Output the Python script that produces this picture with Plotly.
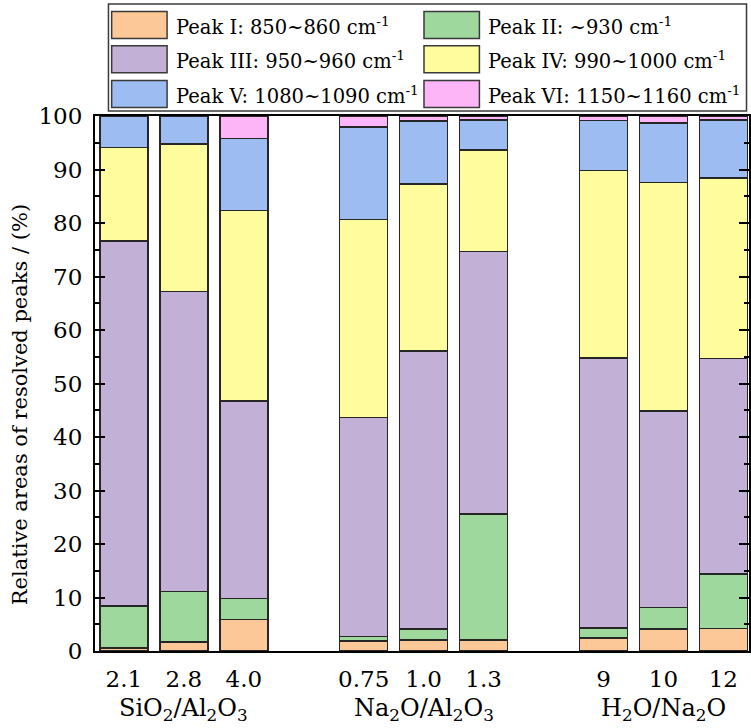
import plotly.graph_objects as go

# ---------------- data ----------------
group_labels = ["SiO<sub>2</sub>/Al<sub>2</sub>O<sub>3</sub>",
                "Na<sub>2</sub>O/Al<sub>2</sub>O<sub>3</sub>",
                "H<sub>2</sub>O/Na<sub>2</sub>O"]
ratio_labels = [["2.1", "2.8", "4.0"],
                ["0.75", "1.0", "1.3"],
                ["9", "10", "12"]]

peak_names = ["Peak I: 850~860 cm<sup>-1</sup>",
              "Peak II: ~930 cm<sup>-1</sup>",
              "Peak III: 950~960 cm<sup>-1</sup>",
              "Peak IV: 990~1000 cm<sup>-1</sup>",
              "Peak V: 1080~1090 cm<sup>-1</sup>",
              "Peak VI: 1150~1160 cm<sup>-1</sup>"]

# relative areas (%) for the 9 samples, in order of ratio_labels
peak_I   = [0.6, 1.7, 5.9, 1.9, 2.1, 2.1, 2.4, 4.1, 4.2]
peak_II  = [7.8, 9.4, 3.9, 0.8, 2.0, 23.5, 1.9, 4.0, 10.2]
peak_III = [68.2, 56.1, 36.9, 40.9, 52.0, 49.1, 50.5, 36.8, 40.3]
peak_IV  = [17.5, 27.6, 35.6, 37.1, 31.2, 18.9, 35.0, 42.7, 33.7]
peak_V   = [5.9, 5.2, 13.5, 17.2, 11.8, 5.7, 9.4, 11.1, 10.9]
peak_VI  = [0.0, 0.0, 4.2, 2.1, 0.9, 0.7, 0.8, 1.3, 0.7]

y_ticks = [0, 10, 20, 30, 40, 50, 60, 70, 80, 90, 100]

# ---------------- styles ----------------
colors = ["#FDC897", "#9FD89D", "#C2B0D6", "#FFFC9E", "#9DBDF2", "#FDB5F7"]
FONT = "DejaVu Serif"
TICK_SIZE = 23
GROUP_SIZE = 24
TITLE_SIZE = 21
LEG_SIZE = 19.5
W, H = 751, 728
L, R, T, B = 95, 0, 116, 77

# x positions derived from group structure (gap of one slot between groups)
xpos, xtext, group_centers = [], [], []
for gi, labs in enumerate(ratio_labels):
    base = gi * (len(labs) + 1)
    for i, lab in enumerate(labs):
        xpos.append(base + i)
        xtext.append(lab)
    group_centers.append(base + (len(labs) - 1) / 2)

series = [peak_I, peak_II, peak_III, peak_IV, peak_V, peak_VI]

fig = go.Figure()
for name, vals, col in zip(peak_names, series, colors):
    fig.add_trace(go.Bar(
        x=xpos, y=vals, name=name, width=0.8,
        marker=dict(color=col, line=dict(color="#262626", width=1.5)),
        showlegend=False,
    ))

pw = W - L - R
ph = H - T - B


def px2x(px):
    return (px - L) / pw


def py2y(py):
    return (H - B - py) / ph


shapes = []
annotations = []

# legend frame
shapes.append(dict(type="rect", xref="paper", yref="paper",
                   x0=px2x(108.5), x1=px2x(748.5), y0=py2y(111), y1=py2y(4),
                   line=dict(color="#3a3a3a", width=1.5), fillcolor="white", layer="above"))
col_sw = [111.7, 425.0]
col_tx = [174.0, 487.3]
row_c = [25.0, 59.2, 93.9]
sw_w, sw_h = 55.6, 27.0
for k, (name, col) in enumerate(zip(peak_names, colors)):
    r, c = k // 2, k % 2
    shapes.append(dict(type="rect", xref="paper", yref="paper",
                       x0=px2x(col_sw[c]), x1=px2x(col_sw[c] + sw_w),
                       y0=py2y(row_c[r] + sw_h / 2), y1=py2y(row_c[r] - sw_h / 2),
                       line=dict(color="#3a3a3a", width=1.5), fillcolor=col, layer="above"))
    annotations.append(dict(xref="paper", yref="paper", x=px2x(col_tx[c]), y=py2y(row_c[r] + 1),
                            text=name, showarrow=False, xanchor="left", yanchor="middle",
                            font=dict(family=FONT, size=LEG_SIZE, color="black")))

# group labels
for gc, gl in zip(group_centers, group_labels):
    annotations.append(dict(xref="x", yref="paper", x=gc, y=py2y(709),
                            text=gl, showarrow=False, xanchor="center", yanchor="middle",
                            font=dict(family=FONT, size=GROUP_SIZE, color="black")))

# y title
annotations.append(dict(xref="paper", yref="paper", x=px2x(20), y=py2y(405),
                        text="Relative areas of resolved peaks / (%)", textangle=-90,
                        showarrow=False, xanchor="center", yanchor="middle",
                        font=dict(family=FONT, size=TITLE_SIZE, color="black")))

x_left = -0.482
x_scale = 60.13
x_right = x_left + pw / x_scale

fig.update_layout(
    barmode="stack",
    width=W, height=H,
    margin=dict(l=L, r=R, t=T, b=B, pad=0),
    paper_bgcolor="white", plot_bgcolor="white",
    font=dict(family=FONT, size=TICK_SIZE, color="black"),
    shapes=shapes, annotations=annotations,
    xaxis=dict(range=[x_left, x_right], tickvals=xpos, ticktext=xtext,
               showgrid=False, zeroline=False, showline=True, linecolor="black", linewidth=2,
               mirror=True, ticks="", ticklabelstandoff=6,
               tickfont=dict(family=FONT, size=TICK_SIZE, color="black")),
    yaxis=dict(range=[0, 100], tickvals=y_ticks, showgrid=False, zeroline=False,
               showline=True, linecolor="black", linewidth=2, mirror="ticks",
               ticks="inside", ticklen=10, tickwidth=2, tickcolor="black",
               ticklabelstandoff=6,
               minor=dict(ticks="inside", ticklen=5, tickwidth=1.5, dtick=5, tickcolor="black"),
               tickfont=dict(family=FONT, size=TICK_SIZE, color="black")),
)

fig.write_html("out.html")
